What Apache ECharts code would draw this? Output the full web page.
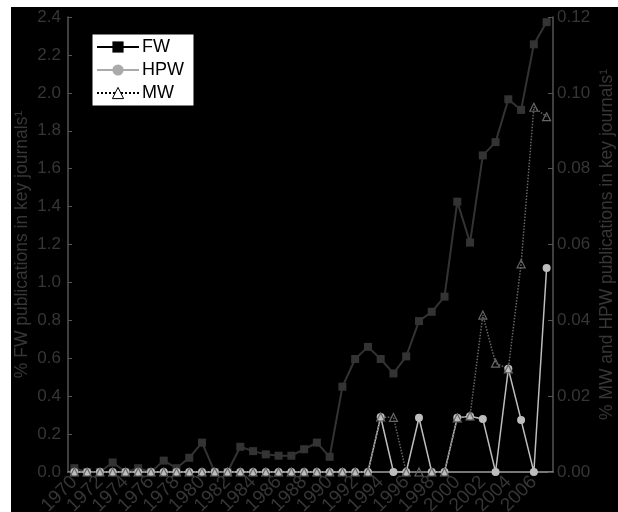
<!DOCTYPE html>
<html>
<head>
<meta charset="utf-8">
<script src="https://cdn.jsdelivr.net/npm/echarts@6/dist/echarts.min.js"></script>
<style>
html,body{margin:0;padding:0;background:#fff;}
#c{width:618px;height:512px;}
</style>
</head>
<body>
<div id="c"></div>
<script>
const years = ['1970','1971','1972','1973','1974','1975','1976','1977','1978','1979','1980','1981','1982','1983','1984','1985','1986','1987','1988','1989','1990','1991','1992','1993','1994','1995','1996','1997','1998','1999','2000','2001','2002','2003','2004','2005','2006','2007'];
const fwValues = [0.02,0,0,0.05,0,0.02,0,0.06,0.02,0.075,0.155,0,0,0.133,0.11,0.093,0.086,0.086,0.12,0.155,0.08,0.45,0.596,0.66,0.596,0.52,0.61,0.796,0.845,0.925,1.426,1.21,1.67,1.74,1.966,1.91,2.256,2.373];
const hpwValues = [0,0,0,0,0,0,0,0,0,0,0,0,0,0,0,0,0,0,0,0,0,0,0,0,0.0145,0,0,0.0143,0,0,0.0143,0.0147,0.014,0,0.0272,0.0137,0,0.0538];
const mwValues = [0,0,0,0,0,0,0,0,0,0,0,0,0,0,0,0,0,0,0,0,0,0,0,0,0.0145,0.0144,0,0,0,0,0.0143,0.0148,0.0414,0.0287,0.0272,0.0549,0.0962,0.0937];
const leftTicks = {min:0, max:2.4, interval:0.2};
const rightTicks = {min:0, max:0.12, interval:0.02};

const FONT = 'Liberation Sans';
const TXT = '#363636';
const chart = echarts.init(document.getElementById('c'), null, {renderer:'canvas'});
chart.setOption({
  backgroundColor:'#fff',
  animation:false,
  textStyle:{fontFamily:FONT},
  graphic:[{type:'rect', z:-10, silent:true, shape:{x:11,y:7,width:607,height:505}, style:{fill:'#000'}}],
  grid:{left:68, right:65, top:17, bottom:40, containLabel:false, outerBoundsMode:'none'},
  legend:{
    orient:'vertical', left:92, top:34,
    backgroundColor:'#fff', borderColor:'#000', borderWidth:1,
    padding:[4,10,4,4], itemGap:5, itemWidth:42, itemHeight:14,
    textStyle:{fontFamily:FONT, fontSize:18, color:'#000', padding:[0,0,0,-2]},
    data:[
      {name:'FW', itemStyle:{color:'#000'}, lineStyle:{color:'#000'}},
      {name:'HPW', itemStyle:{color:'#aaa'}, lineStyle:{color:'#aaa'}},
      {name:'MW', itemStyle:{color:'#fff', borderColor:'#000', borderWidth:1}, lineStyle:{color:'#000', type:'dotted'}}
    ]
  },
  xAxis:[{
    type:'category', data:years, boundaryGap:true,
    axisLine:{lineStyle:{color:'#555', width:1.5}},
    axisTick:{inside:true, length:4, interval:0, lineStyle:{color:'#555'}},
    axisLabel:{interval:0, rotate:45, fontSize:19, color:TXT, fontFamily:FONT, margin:7,
      hideOverlap:false, showMinLabel:true, showMaxLabel:false,
      formatter:(v, i) => (i % 2 === 0 ? v : '')}
  },{
    type:'category', data:years, position:'top',
    axisLine:{lineStyle:{color:'#8a8a8a', width:1.5}},
    axisTick:{show:false}, axisLabel:{show:false}
  }],
  yAxis:[{
    type:'value', min:leftTicks.min, max:leftTicks.max, interval:leftTicks.interval,
    name:'% FW publications in key journals¹', nameLocation:'middle', nameGap:37, nameRotate:90,
    nameMoveOverlap:false,
    nameTextStyle:{fontSize:17.5, color:TXT, fontFamily:FONT},
    axisLine:{show:true, lineStyle:{color:'#555', width:1.5}},
    axisTick:{show:true, inside:true, length:4, lineStyle:{color:'#555'}},
    axisLabel:{fontSize:17, color:TXT, fontFamily:FONT, margin:7, formatter:v=>v.toFixed(1)},
    splitLine:{show:false}
  },{
    type:'value', position:'right', min:rightTicks.min, max:rightTicks.max, interval:rightTicks.interval,
    name:'% MW and HPW publications in key journals¹', nameLocation:'middle', nameGap:45, nameRotate:90,
    nameMoveOverlap:false,
    nameTextStyle:{fontSize:17.5, color:TXT, fontFamily:FONT},
    axisLine:{show:true, lineStyle:{color:'#555', width:1.5}},
    axisTick:{show:true, inside:true, length:5, lineStyle:{color:'#555'}},
    axisLabel:{fontSize:17, color:TXT, fontFamily:FONT, margin:4, formatter:v=>v.toFixed(2)},
    splitLine:{show:false}
  }],
  series:[
    {name:'FW', type:'line', data:fwValues, xAxisIndex:0, yAxisIndex:0,
     symbol:'rect', symbolSize:8, showAllSymbol:true,
     itemStyle:{color:'#333'}, lineStyle:{color:'#333', width:2}},
    {name:'HPW', type:'line', data:hpwValues, xAxisIndex:0, yAxisIndex:1,
     symbol:'circle', symbolSize:8, showAllSymbol:true,
     itemStyle:{color:'#bdbdbd'}, lineStyle:{color:'#bdbdbd', width:1.5}},
    {name:'MW', type:'line', data:mwValues, xAxisIndex:0, yAxisIndex:1,
     symbol:'triangle', symbolSize:8, showAllSymbol:true,
     itemStyle:{color:'rgba(0,0,0,0)', borderColor:'#666', borderWidth:1.2},
     lineStyle:{color:'#666', width:1.5, type:'dotted'}}
  ]
});
</script>
</body>
</html>
